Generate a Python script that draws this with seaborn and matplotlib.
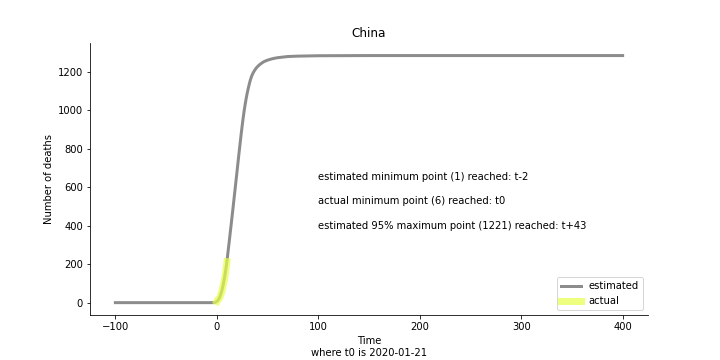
import matplotlib
matplotlib.use("Agg")
import matplotlib.pyplot as plt
import seaborn as sns
import pandas as pd

# Estimated curve
est_t = [-100, -50, -10, -5, -3, -2, -1, 0, 1, 2, 3, 4, 5, 6, 7, 8, 9, 10,
         11, 12, 13, 14, 15, 16, 17, 18, 19, 20, 21, 22, 23, 24, 25, 26, 27, 28, 29,
         30, 31, 32, 33, 34, 35, 36, 37, 38, 39, 40, 42, 44, 46, 48, 50, 53, 56,
         60, 65, 70, 80, 100, 150, 200, 300, 400]
est_v = [0, 0, 0, 0, 0, 1, 3, 6, 11, 19, 30, 45, 63, 86, 112, 142, 177, 216,
         262, 307, 353, 399, 446, 493, 541, 589, 637, 685, 734, 782, 829, 875, 919, 960, 998, 1032, 1062,
         1089, 1113, 1135, 1155, 1171, 1184, 1195, 1204, 1212, 1219, 1225, 1235, 1243, 1250, 1255, 1259, 1264, 1268,
         1272, 1275, 1278, 1280, 1282, 1283, 1283, 1283, 1283]

# Actual deaths
act_t = [0, 1, 2, 3, 4, 5, 6, 7, 8, 9, 10]
act_v = [6, 17, 18, 26, 42, 56, 82, 106, 132, 170, 213]

notes = ["estimated minimum point (1) reached: t-2",
         "actual minimum point (6) reached: t0",
         "estimated 95% maximum point (1221) reached: t+43"]
note_y = [655, 528, 400]

sns.set_style("ticks")
plt.rcParams["font.family"] = ["DejaVu Sans"]
plt.rcParams["lines.solid_capstyle"] = "projecting"
for k in ["text.color", "axes.labelcolor", "xtick.color", "ytick.color", "axes.edgecolor"]:
    plt.rcParams[k] = "black"
fig, ax = plt.subplots(figsize=(10, 5), dpi=72)

est = pd.DataFrame({"t": est_t, "v": est_v})
act = pd.DataFrame({"t": act_t, "v": act_v})
sns.lineplot(data=est, x="t", y="v", ax=ax, color="#8c8c8c", linewidth=3,
             label="estimated")
sns.lineplot(data=act, x="t", y="v", ax=ax, color="#e8ff4a", alpha=0.7, linewidth=7,
             label="actual")

for y, s in zip(note_y, notes):
    ax.text(100, y, s, fontsize=10, va="center", ha="left")

ax.set_title("China", fontsize=12)
ax.set_xlabel("Time\nwhere t0 is 2020-01-21", fontsize=10)
ax.set_ylabel("Number of deaths", fontsize=10)
ax.tick_params(labelsize=10)
ax.set_xticks([-100, 0, 100, 200, 300, 400])
ax.set_yticks([0, 200, 400, 600, 800, 1000, 1200])
ax.legend(loc="lower right", fontsize=10)
sns.despine(ax=ax)
fig.subplots_adjust(left=0.125, right=0.9, bottom=0.125, top=0.88)
fig.savefig("out.png", dpi=72)
